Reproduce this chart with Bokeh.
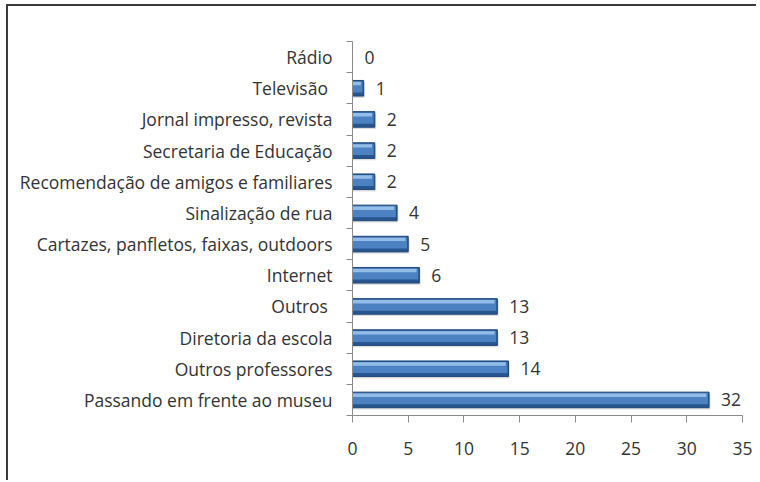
from bokeh.plotting import figure
from bokeh.embed import file_html
from bokeh.resources import INLINE
from bokeh.models import FixedTicker, Range1d
from bokeh.layouts import column
from bokeh.core.properties import value

categories = ["Rádio", "Televisão ", "Jornal impresso, revista", "Secretaria de Educação",
              "Recomendação de amigos e familiares", "Sinalização de rua",
              "Cartazes, panfletos, faixas, outdoors", "Internet", "Outros ",
              "Diretoria da escola", "Outros professores", "Passando em frente ao museu"]
values = [0, 1, 2, 2, 2, 4, 5, 6, 13, 13, 14, 32]
x_ticks = [0, 5, 10, 15, 20, 25, 30, 35]

n = len(categories)
ys = [n - 1 - i for i in range(n)]

FONT = "Open Sans"
FS = "17.5px"
TXT = "#333333"
AX = "#8a8a8a"

p = figure(width=748, height=474, output_backend="svg", toolbar_location=None,
           x_range=Range1d(0, 35), y_range=Range1d(-0.5, n - 0.5),
           min_border_left=344, min_border_right=14, min_border_top=35, min_border_bottom=65)
p.outline_line_color = None
p.grid.visible = False

bh = 0.5
# shadow
p.hbar(y=[y - 0.06 for y in ys], left=0, right=[v + 0.12 if v > 0 else 0 for v in values],
       height=bh, fill_color="#c8c8c8", fill_alpha=0.6, line_color=None)
# base dark
p.hbar(y=ys, left=0, right=values, height=bh, fill_color="#26558f", line_color="#1f4878", line_width=1)
# mid
p.hbar(y=[y + 0.04 for y in ys], left=0, right=[max(v - 0.1, 0) for v in values], height=bh * 0.72,
       fill_color="#4c82c2", line_color=None)
# light bevel
p.hbar(y=[y + 0.15 for y in ys], left=0, right=[max(v - 0.25, 0) for v in values], height=bh * 0.22,
       fill_color="#94bce9", line_color=None)

p.text(x=values, y=ys, text=[str(v) for v in values], x_offset=12,
       text_baseline="middle", text_align="left", text_font=value(FONT),
       text_font_size=FS, text_color=TXT)

xa = p.xaxis[0]
xa.ticker = FixedTicker(ticks=x_ticks)
xa.axis_line_color = AX
xa.major_tick_line_color = AX
xa.major_tick_out = 7
xa.major_tick_in = 0
xa.minor_tick_line_color = None
xa.major_label_standoff = 19
xa.major_label_text_font = FONT
xa.major_label_text_font_size = FS
xa.major_label_text_color = TXT

ya = p.yaxis[0]
ya.ticker = FixedTicker(ticks=ys, minor_ticks=[y - 0.5 for y in ys] + [n - 0.5])
ya.major_label_overrides = {y: c for y, c in zip(ys, categories)}
ya.axis_line_color = AX
ya.major_tick_line_color = None
ya.major_tick_out = 0
ya.major_tick_in = 0
ya.minor_tick_line_color = AX
ya.minor_tick_out = 6
ya.minor_tick_in = 0
ya.major_label_standoff = 14
ya.major_label_text_font = FONT
ya.major_label_text_font_size = FS
ya.major_label_text_color = TXT

layout = column(p, styles={"border-top": "2px solid #3a3a3a", "border-left": "2px solid #3a3a3a",
                           "margin-left": "6px", "margin-top": "4px"})

open("out.html", "w").write(file_html(layout, INLINE))
